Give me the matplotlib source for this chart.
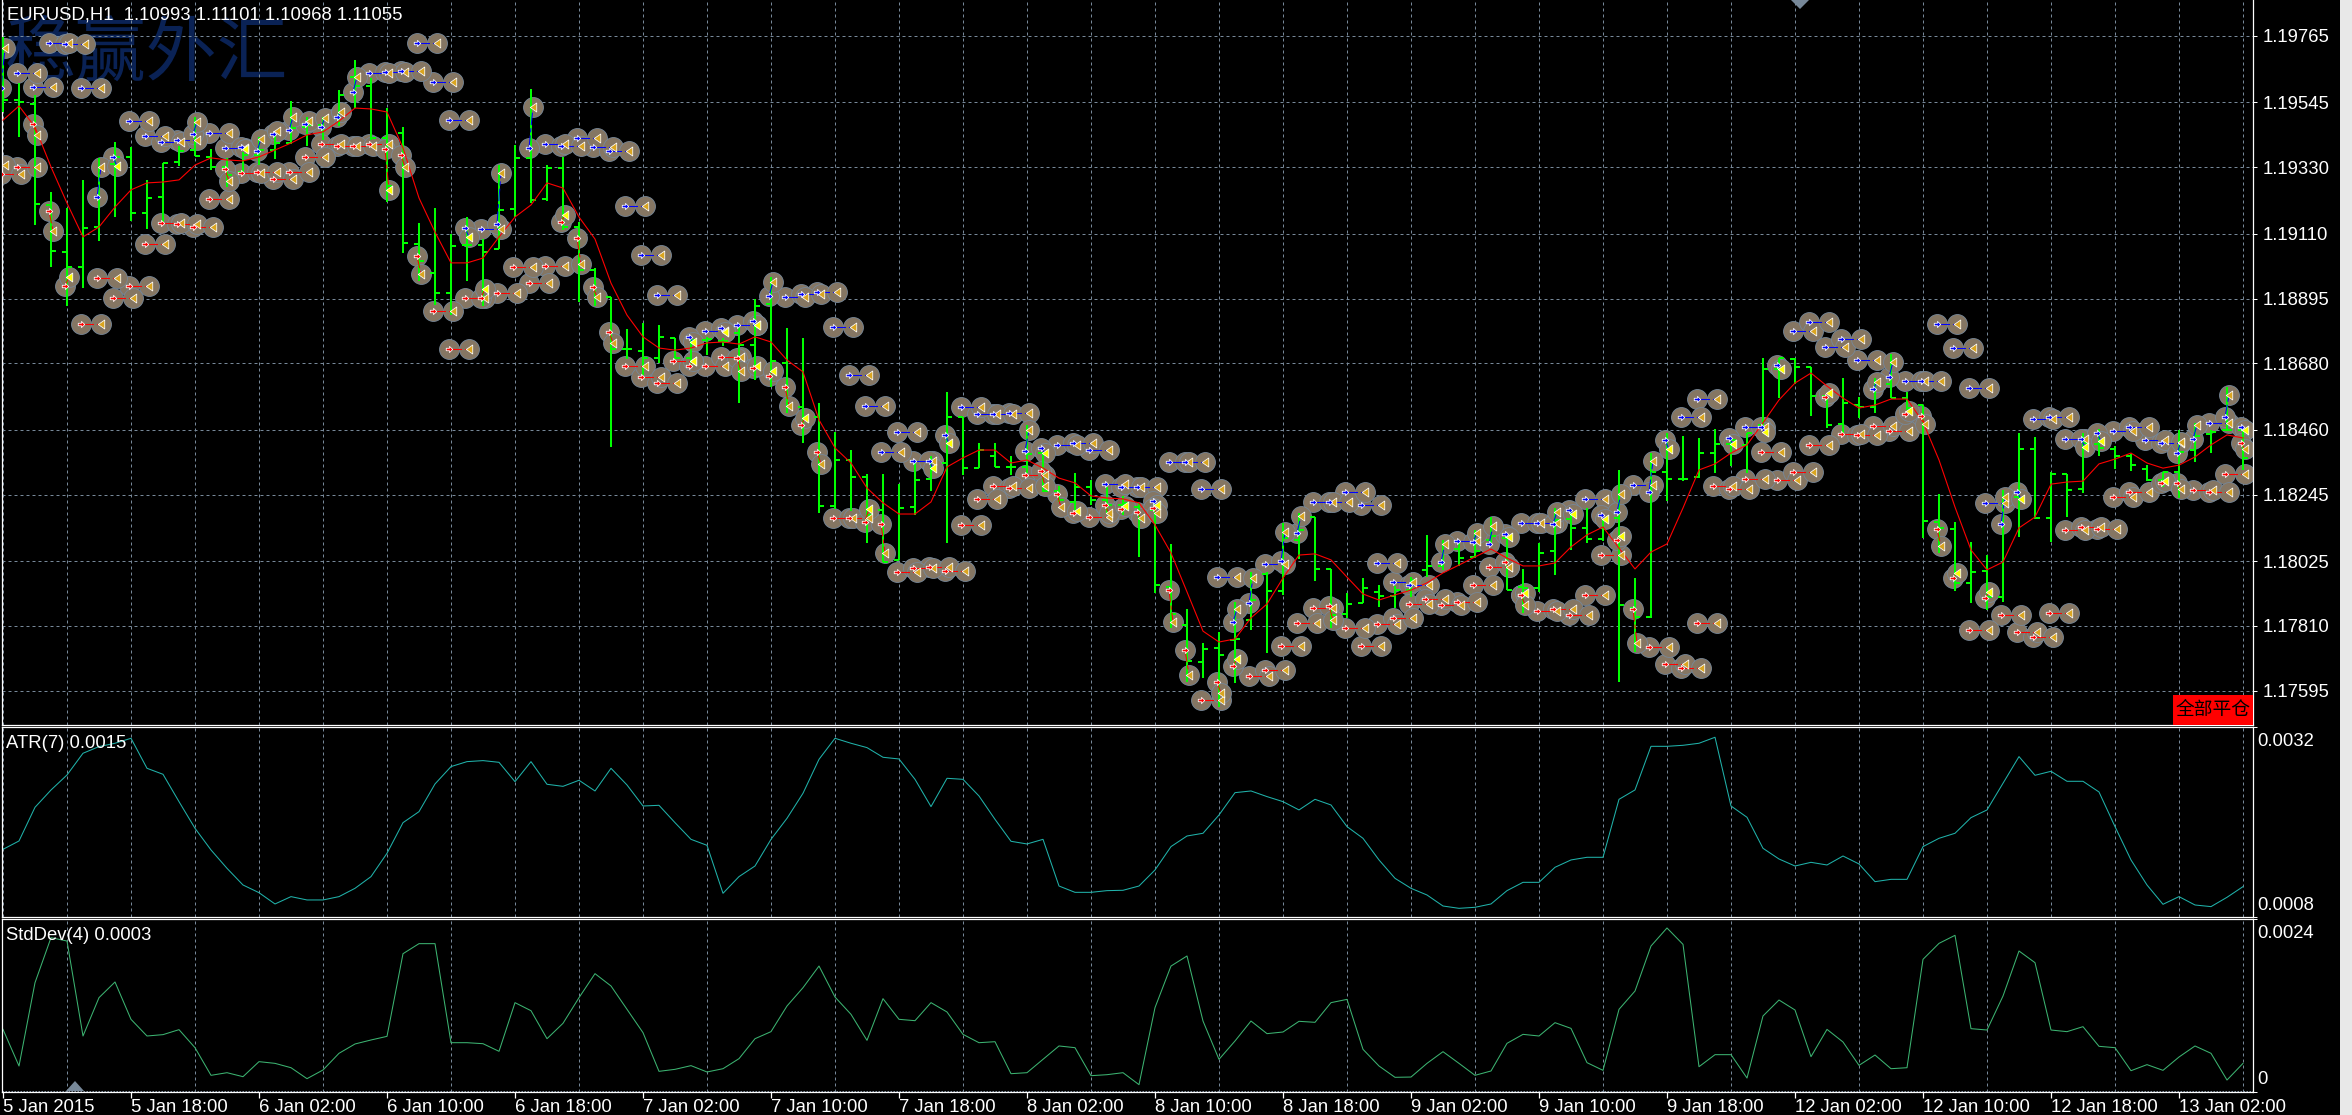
import numpy as np
import matplotlib
matplotlib.use("Agg")
import matplotlib.pyplot as plt
from matplotlib.patches import Polygon, Rectangle
from matplotlib.path import Path

W, H = 2352, 1115
plt.rcParams['font.family'] = ['Liberation Sans', 'DejaVu Sans']

# OHLC of the H1 bars, in points (price * 1e5)
high = [119761,119609,119569,119248,119195,119288,119361,119414,119397,119288,119344,119400,119496,119390,119361,119380,119430,119437,119549,119496,119496,119586,119685,119626,119526,119463,119145,119195,119109,119165,119092,119337,119404,119589,119337,119364,119149,118996,118900,118794,118814,118807,118764,118768,118768,118764,118801,118893,118966,118797,118764,118549,118453,118393,118314,118314,118281,118353,118373,118585,118502,118416,118416,118373,118476,118383,118274,118317,118294,118271,118241,118218,118227,118082,117866,117754,117790,117890,117989,117989,118151,118184,118171,117999,117919,117969,117946,117943,117972,118112,118095,118085,118128,118171,118102,117999,118085,118201,118194,118201,118161,118327,117969,118383,118449,118439,118433,118463,118433,118449,118698,118698,118698,118668,118572,118632,118569,118632,118711,118585,118542,118247,118155,118088,118045,118261,118449,118436,118320,118314,118449,118463,118406,118380,118343,118320,118459,118483,118459,118602,118459]
low = [119513,119430,119139,118999,118870,118930,119086,119165,119152,119125,119145,119334,119367,119321,119264,119314,119337,119357,119407,119400,119420,119467,119526,119420,119215,119046,118953,118873,118840,118953,118870,119059,119165,119211,119218,119122,118883,118870,118403,118695,118642,118681,118695,118675,118708,118738,118549,118625,118602,118516,118416,118184,118198,118191,118085,118022,118029,118178,118257,118085,118310,118333,118337,118310,118317,118254,118221,118194,118211,118184,118178,118039,117919,117803,117625,117638,117542,117621,117797,117721,117913,118032,117959,117803,117837,117886,117873,117870,117906,117972,117996,118009,118035,118078,117929,117853,117923,117979,118062,118085,118092,117625,117724,117837,118224,118290,118300,118317,118340,118317,118466,118565,118612,118506,118466,118446,118499,118516,118565,118526,118102,118052,117926,117886,117863,117890,118105,118165,118088,118171,118251,118373,118330,118324,118290,118271,118234,118353,118383,118459,118327]
open_ = [119553,119553,119539,119205,119049,118999,119132,119341,119364,119178,119231,119347,119387,119364,119331,119314,119370,119387,119410,119463,119470,119493,119629,119599,119427,119443,119076,118980,118913,119072,119072,119059,119192,119361,119225,119327,119132,118989,118900,118728,118721,118698,118764,118698,118758,118754,118781,118741,118877,118681,118536,118502,118208,118360,118304,118194,118029,118204,118297,118350,118502,118333,118373,118337,118337,118383,118257,118221,118271,118227,118211,118204,118194,117939,117813,117691,117737,117764,117830,117982,117926,118095,118171,117999,117850,117886,117923,117909,117929,117996,118009,118065,118039,118095,118102,117939,117936,118059,118165,118135,118098,118168,117870,117840,118320,118297,118304,118383,118413,118410,118476,118661,118695,118668,118572,118479,118542,118536,118612,118565,118542,118155,118131,117953,117992,117906,118237,118396,118168,118314,118264,118413,118396,118373,118330,118294,118320,118393,118446,118459,118459]
close = [119553,119546,119208,119052,118999,119129,119331,119364,119178,119228,119344,119384,119367,119331,119304,119370,119387,119410,119460,119470,119493,119569,119599,119427,119268,119079,119019,118913,119069,119072,119049,119188,119361,119221,119327,119132,118989,118900,118728,118728,118698,118768,118698,118758,118761,118754,118741,118870,118688,118542,118502,118208,118360,118304,118178,118022,118201,118294,118327,118502,118333,118393,118337,118337,118380,118257,118227,118271,118227,118211,118218,118161,117946,117850,117694,117734,117714,117767,117896,117926,118102,118128,117999,117846,117883,117936,117909,117929,117962,118009,118078,118035,118059,118108,117929,117936,118052,118161,118135,118098,118161,117880,117840,118320,118297,118297,118383,118413,118426,118449,118661,118698,118668,118572,118476,118549,118536,118612,118565,118532,118158,118135,117953,117989,117906,118237,118396,118168,118314,118261,118416,118400,118373,118343,118294,118320,118387,118439,118453,118459,118367]
ma_line = [119486,119533,119463,119331,119211,119099,119132,119198,119255,119278,119281,119288,119337,119361,119354,119351,119364,119387,119410,119437,119447,119483,119526,119523,119513,
119394,119228,119115,119013,119013,119029,119099,119165,119205,119278,119261,119165,119092,118946,118840,118768,118731,118724,118731,118748,118751,118744,118768,
118751,118691,118652,118493,118400,118350,118267,118218,118181,118181,118221,118337,118367,118393,118393,118350,118360,118333,118300,118284,118241,118234,118231,118218,
118145,118052,117923,117793,117757,117767,117837,117883,117969,118045,118049,118029,117972,117916,117896,117913,117929,117953,117986,118012,118039,118065,118035,
118009,118009,118019,118072,118112,118138,118068,117999,118055,118082,118201,118327,118347,118383,118410,118483,118559,118615,118648,118605,118565,118532,118542,118562,118562,
118486,118360,118204,118062,117996,118022,118135,118171,118280,118287,118290,118347,118363,118383,118350,118333,118343,118370,118410,118443,118433]

# long trades closed on the following bar
buy_next_bar = [1,2,3,4,5,8,9,10,11,13,14,23,24,25,26,27,28,30,34,35,36,37,38,39,40,41,44,46,49,50,51,52,53,54,55,56,57,60,61,62,63,66,67,68,69,70,71,73,74,75,76,79,82,83,84,85,86,87,88,91,95,96,99,102,105,106,109,112,113,114,115,116,119,120,121,122,123,124,127,128,129,132,133,134,135,138]
buy_next_px = [119642,119596,119742,119738,119592,119483,119433,119414,119420,119443,119394,119642,119645,119649,119742,119612,119486,119125,119407,119400,119427,119397,119384,119202,119039,118907,118787,118807,118900,118910,118917,118801,118642,118539,118387,118453,118357,118536,118512,118512,118516,118410,118416,118393,118280,118271,118271,118353,118353,118264,117972,118015,118221,118221,118254,118211,118019,117956,117946,118092,118151,118151,118231,118277,118502,118562,118469,118787,118817,118734,118761,118691,118622,118622,118811,118731,118599,118218,118496,118502,118430,118456,118469,118426,118416,118483]

# long trades closed inside the same bar (yellow = 1 marks the yellow close arrow)
buy_same_bar = [0,6,7,12,15,16,17,18,19,20,21,22,29,31,33,43,45,47,48,58,59,64,65,72,77,78,80,81,90,92,93,94,97,98,100,101,103,104,108,110,111,117,118,125,126,130,131,136,137,139,140]
buy_same_in = [119592,119231,119364,119440,119397,119384,119440,119453,119473,119463,119496,119579,119129,119142,119394,118768,118797,118821,118903,118357,118443,118390,118400,118224,117823,117886,118025,118118,118022,118088,118082,118115,118148,118194,118178,118188,118254,118426,118433,118469,118675,118595,118635,118148,118254,118430,118449,118383,118430,118502,118469]
buy_same_out = [119725,119331,119334,119480,119390,119423,119450,119496,119483,119493,119513,119629,119099,119311,119529,118751,118784,118807,118950,118333,118416,118459,118383,118211,117866,117969,118121,118174,118082,118118,118141,118105,118188,118181,118165,118247,118357,118396,118413,118453,118661,118618,118685,118237,118231,118403,118423,118420,118476,118575,118459]
buy_same_yellow = [0,0,1,0,1,0,0,0,0,0,0,0,1,0,0,1,1,1,0,1,1,0,1,1,0,0,0,0,0,0,0,1,0,1,1,0,0,1,1,1,1,0,0,0,1,1,1,0,0,0,1]

# short trades closed on the following bar
sell_next_bar = [-1,0,1,5,6,7,8,9,10,11,12,13,15,16,17,18,19,20,21,22,23,27,28,29,31,32,33,34,39,40,41,42,44,45,52,53,56,57,58,59,60,61,62,63,64,68,75,78,79,80,81,82,84,85,86,87,88,89,90,91,92,93,96,97,98,99,100,103,104,105,106,107,108,109,110,111,112,113,115,116,117,118,123,125,126,127,128,129,130,131,132,133,137,138,139]
sell_next_px = [119337,119308,119331,118811,118963,118897,118936,119076,119145,119142,119132,119225,119311,119314,119291,119314,119364,119407,119400,119400,119407,118854,118728,118897,118913,118999,118946,119003,118671,118635,118615,118688,118671,118701,118168,118168,117989,118002,118005,117992,118145,118231,118274,118267,118310,118171,117565,117644,117664,117744,117820,117870,117803,117744,117817,117837,117883,117899,117880,117890,117946,118005,117860,117866,117846,117913,118045,117740,117684,117671,117820,118274,118264,118297,118387,118294,118320,118410,118446,118443,118473,118456,117797,117846,117790,117774,117853,118128,118138,118131,118237,118254,118261,118254,118314]

# short trades closed inside the same bar
sell_same_bar = [2,3,4,14,24,25,26,30,35,36,37,38,43,46,47,48,49,50,51,54,55,65,66,67,69,70,71,72,73,74,76,77,83,94,95,95,101,102,114,119,120,121,122,124,135,136,140]
sell_same_in = [119473,119185,118936,119324,119390,119370,119036,118897,119149,119096,118933,118784,118671,118698,118665,118638,118602,118476,118387,118155,118148,118324,118247,118184,118211,118198,118188,118201,117929,117731,117625,117678,117876,118022,117913,117913,118095,117866,118569,118512,118506,118131,117969,117903,118284,118284,118416]
sell_same_out = [119437,119119,118966,119284,119255,119331,118976,118927,119172,119009,118900,118748,118688,118655,118671,118655,118539,118499,118347,118198,118052,118274,118204,118191,118184,118208,118168,118184,117823,117648,117588,117701,117830,118005,117919,117880,118108,117754,118582,118522,118479,118075,117986,117923,118290,118264,118396]
sell_same_yellow = [0,0,1,0,1,0,0,1,1,0,0,0,1,0,1,1,0,1,0,1,0,0,0,1,0,1,0,0,0,0,0,1,0,0,1,0,1,0,1,1,0,0,1,1,1,0,0]

# ATR(7), in units of 0.0001
atr_values = [16.18,17.41,22.36,24.9,27.11,30.3,31.28,31.77,32.5,28.09,27.21,23.19,19.27,16.09,13.39,10.94,9.81,8.15,9.23,8.74,8.74,9.23,10.45,12.17,15.6,20.1,21.72,25.79,28.34,29.07,29.22,28.97,26.13,29.07,25.74,25.44,26.33,24.76,28.09,25.64,22.55,22.65,20.1,17.65,16.77,9.72,12.17,13.73,17.65,20.74,24.42,29.41,32.5,31.77,31.13,29.71,29.46,26.47,22.46,26.62,26.47,24.02,20.59,17.36,16.97,17.65,10.79,9.86,9.86,10.11,10.16,10.79,13.15,16.58,18.14,18.54,21.23,24.51,24.76,23.93,23.19,21.97,23.53,22.7,19.52,17.8,14.62,11.92,10.45,9.47,7.85,7.51,7.66,8.15,10.11,11.33,11.33,13.54,14.62,15.01,15.01,23.53,24.91,31.32,31.32,31.47,31.77,32.65,22.55,20.89,16.33,14.76,13.73,14.27,13.88,15.2,14.03,11.43,11.77,11.77,16.58,17.8,18.54,20.84,21.97,25.89,29.81,27.06,27.65,26.18,26.18,24.61,19.52,14.62,10.94,8.1,9.23,8.0,7.76,9.13,10.7]
# StdDev(4), in units of 0.0001
std_values = [8.65,3.51,15.2,21.52,21.05,7.72,13.1,15.3,10.06,7.72,7.91,8.61,6.08,2.2,2.57,2.01,4.12,3.88,3.27,1.73,2.95,5.29,6.6,7.16,7.67,19.27,20.68,20.68,6.78,6.78,6.64,5.57,12.4,11.27,7.34,9.5,13.1,16.47,14.74,11.46,8.19,2.76,3.04,3.56,2.67,3.13,4.54,7.34,8.33,11.93,14.5,17.54,13.19,10.76,7.11,12.96,10.06,9.87,12.4,11.09,7.95,6.78,6.92,2.43,2.57,4.44,6.32,6.08,2.15,2.29,2.57,0.89,11.7,17.54,18.95,9.82,4.44,7.02,9.82,8.05,8.28,9.78,9.64,12.4,12.86,5.85,3.51,1.92,1.96,3.88,5.52,3.88,2.2,2.81,6.69,7.95,7.72,9.59,8.79,3.98,2.9,11.46,14.03,20.35,22.88,20.58,3.41,5.1,5.1,1.82,10.53,12.77,11.37,4.82,8.65,6.88,3.6,5.05,3.13,3.27,18.48,20.72,21.85,8.75,8.56,13.33,19.65,18.01,8.56,8.33,9.03,6.27,6.08,2.85,3.7,2.9,4.77,6.32,5.29,1.54,3.88]

price_ticks = [1.19765,1.19545,1.19330,1.19110,1.18895,1.18680,1.18460,1.18245,1.18025,1.17810,1.17595]
date_labels = ['5 Jan 2015','5 Jan 18:00','6 Jan 02:00','6 Jan 10:00','6 Jan 18:00','7 Jan 02:00','7 Jan 10:00','7 Jan 18:00','8 Jan 02:00','8 Jan 10:00','8 Jan 18:00','9 Jan 02:00','9 Jan 10:00','9 Jan 18:00','12 Jan 02:00','12 Jan 10:00','12 Jan 18:00','13 Jan 02:00']

BG = 'black'
GRID = '#778899'
BAR_GREEN = '#00ff00'
TAN = '#857663'
FONT_PT = 13.3


def px_axes(left, top, right, bottom):
    return fig.add_axes([left / W, 1 - bottom / H, (right - left) / W, (bottom - top) / H])


def fig_poly(points, **kw):
    pts = [(x / W, 1 - y / H) for x, y in points]
    fig.add_artist(Polygon(pts, closed=True, transform=fig.transFigure, zorder=6, **kw))


fig = plt.figure(figsize=(W / 100, H / 100), dpi=100, facecolor=BG)

ax_main = px_axes(2, 0, 2253, 725)
ax_atr = px_axes(2, 727, 2253, 917)
ax_std = px_axes(2, 919, 2253, 1092)

bars = np.arange(len(high))
xlim = (-1 / 16, 2250 / 16)
grid_bars = np.arange(0, 141, 4)

for ax in (ax_main, ax_atr, ax_std):
    ax.set_facecolor(BG)
    ax.set_xlim(*xlim)
    ax.set_xticks(grid_bars)
    ax.set_axisbelow(True)
    ax.grid(True, axis='x', color=GRID, linewidth=0.72, linestyle=(0, (3, 3)))
    for side in ax.spines:
        ax.spines[side].set_color('white')
        ax.spines[side].set_linewidth(0.9)
    ax.tick_params(axis='x', length=0, labelbottom=False)
    ax.yaxis.tick_right()
    ax.tick_params(axis='y', colors='white', length=3, width=0.72, labelsize=FONT_PT)
ax_main.spines['top'].set_visible(False)

# main panel
ax_main.set_ylim(1.17482, 1.19884)
ax_main.set_yticks(price_ticks)
ax_main.set_yticklabels(['%.5f' % p for p in price_ticks])
ax_main.tick_params(axis='y', pad=4)
ax_main.grid(True, axis='y', color=GRID, linewidth=0.72, linestyle=(0, (3, 3)))

# watermark behind the grid
ax_main.text(3 / 2251, 1 - 18 / 725, '稳赢外汇', transform=ax_main.transAxes, ha='left', va='top',
             fontsize=51, color='#0a2255', family=['Noto Sans CJK SC', 'DejaVu Sans'], zorder=0.4)

high_p = np.array(high) / 1e5
low_p = np.array(low) / 1e5
open_p = np.array(open_) / 1e5
close_p = np.array(close) / 1e5

ax_main.vlines(bars, low_p, high_p, color=BAR_GREEN, linewidth=1.44, zorder=3)
ax_main.hlines(open_p, bars - 0.31, bars, color=BAR_GREEN, linewidth=1.44, zorder=3)
ax_main.hlines(close_p, bars, bars + 0.31, color=BAR_GREEN, linewidth=1.44, zorder=3)
ax_main.plot(bars, np.array(ma_line) / 1e5, color='#ff0000', linewidth=0.8, zorder=4)

arrow_marker = Path([(-1, -0.38), (0, -0.38), (0, -0.95), (1, 0), (0, 0.95), (0, 0.38), (-1, 0.38), (-1, -0.38)], closed=True)
close_marker = Path([(0.72, 1), (0.72, -1), (-0.72, 0), (0.72, 1)], closed=True)
ENTRY_SHIFT = -2 / 16
EXIT_SHIFT = 2 / 16


def draw_trades(entry_bar, entry_px, exit_bar, exit_px, yellow, color):
    entry_x = np.array(entry_bar) + ENTRY_SHIFT
    exit_x = np.array(exit_bar) + EXIT_SHIFT
    entry_y = np.array(entry_px) / 1e5
    exit_y = np.array(exit_px) / 1e5
    yellow = np.array(yellow, dtype=bool)
    for xs, ys in ((entry_x, entry_y), (exit_x, exit_y)):
        ax_main.scatter(xs, ys, s=205, marker='o', facecolor=TAN, edgecolor=GRID, linewidth=0.6, zorder=2)
    for x0, y0, x1, y1 in zip(entry_x, entry_y, exit_x, exit_y):
        ax_main.plot([x0, x1], [y0, y1], color=color, linewidth=0.75, linestyle=(0, (12, 3, 4, 3)), zorder=4.5)
    ax_main.scatter(exit_x[~yellow], exit_y[~yellow], s=42, marker=close_marker, facecolor='#daa520',
                    edgecolor='white', linewidth=0.55, zorder=5)
    ax_main.scatter(exit_x[yellow], exit_y[yellow], s=42, marker=close_marker, facecolor='#ffff00',
                    edgecolor='white', linewidth=0.55, zorder=5)
    ax_main.scatter(entry_x, entry_y, s=22, marker=arrow_marker, facecolor=color,
                    edgecolor='white', linewidth=0.55, zorder=5.5)


draw_trades(buy_next_bar, buy_next_px, np.array(buy_next_bar) + 1, buy_next_px, np.zeros(len(buy_next_bar)), '#0000ff')
draw_trades(buy_same_bar, buy_same_in, buy_same_bar, buy_same_out, buy_same_yellow, '#0000ff')
draw_trades(sell_next_bar, sell_next_px, np.array(sell_next_bar) + 1, sell_next_px, np.zeros(len(sell_next_bar)), '#ff0000')
draw_trades(sell_same_bar, sell_same_in, sell_same_bar, sell_same_out, sell_same_yellow, '#ff0000')

# ATR panel
ax_atr.plot(bars, np.array(atr_values) * 1e-4, color='#20b2aa', linewidth=0.75)
ax_atr.set_ylim(6.235e-4, 34.16e-4)
ax_atr.set_yticks([6.235e-4, 34.16e-4])
ax_atr.set_yticklabels([])

# StdDev panel
ax_std.plot(bars, np.array(std_values) * 1e-4, color='#3cb371', linewidth=0.75)
ax_std.axhline(0, color=GRID, linewidth=0.72, linestyle=(0, (1.5, 1.5)))
ax_std.set_ylim(-0.14e-4, 24.14e-4)
ax_std.set_yticks([-0.14e-4, 24.14e-4])
ax_std.set_yticklabels([])
ax_std.set_xticks(bars[::8], minor=False)
ax_std.set_xticks(grid_bars, minor=True)
ax_std.grid(False, axis='x', which='major')
ax_std.grid(True, axis='x', which='minor', color=GRID, linewidth=0.72, linestyle=(0, (3, 3)))
ax_std.tick_params(axis='x', which='minor', length=0)
ax_std.tick_params(axis='x', which='major', length=4, width=0.9, color='white', labelbottom=True,
                   labelcolor='white', labelsize=FONT_PT, pad=1)
ax_std.set_xticklabels(date_labels, ha='left')

# texts
kw = dict(color='white', fontsize=FONT_PT, ha='left', va='center')
fig.text(7 / W, 1 - 15 / H, 'EURUSD,H1  1.10993 1.11101 1.10968 1.11055', zorder=7, **kw)
fig.text(6 / W, 1 - 743 / H, 'ATR(7) 0.0015', zorder=7, **kw)
fig.text(6 / W, 1 - 935 / H, 'StdDev(4) 0.0003', zorder=7, **kw)
fig.text(2257 / W, 1 - 741.5 / H, '0.0032', **kw)
fig.text(2257 / W, 1 - 905 / H, '0.0008', **kw)
fig.text(2257 / W, 1 - 933.5 / H, '0.0024', **kw)
fig.text(2257 / W, 1 - 1080 / H, '0', **kw)

# close-all button
fig.add_artist(Rectangle((2173 / W, 1 - 725 / H), 80 / W, 30 / H, transform=fig.transFigure,
                         facecolor='#ff0000', edgecolor='none', zorder=6))
fig.text(2213 / W, 1 - 710 / H, '全部平仓', color='black', fontsize=13.5, ha='center', va='center',
         family=['Noto Sans CJK SC', 'DejaVu Sans'], zorder=7)

# shift and period-separator handles
fig_poly([(1791, 0), (1809, 0), (1800, 9)], facecolor=GRID, edgecolor='none')
fig_poly([(66, 1091), (84, 1091), (75, 1081)], facecolor=GRID, edgecolor='none')

# window border on the right
fig.add_artist(Rectangle((2340 / W, 0), 12 / W, 1, transform=fig.transFigure,
                         facecolor='#e8e8e8', edgecolor='none', zorder=6))

fig.savefig('out.png', dpi=100, facecolor=BG)
